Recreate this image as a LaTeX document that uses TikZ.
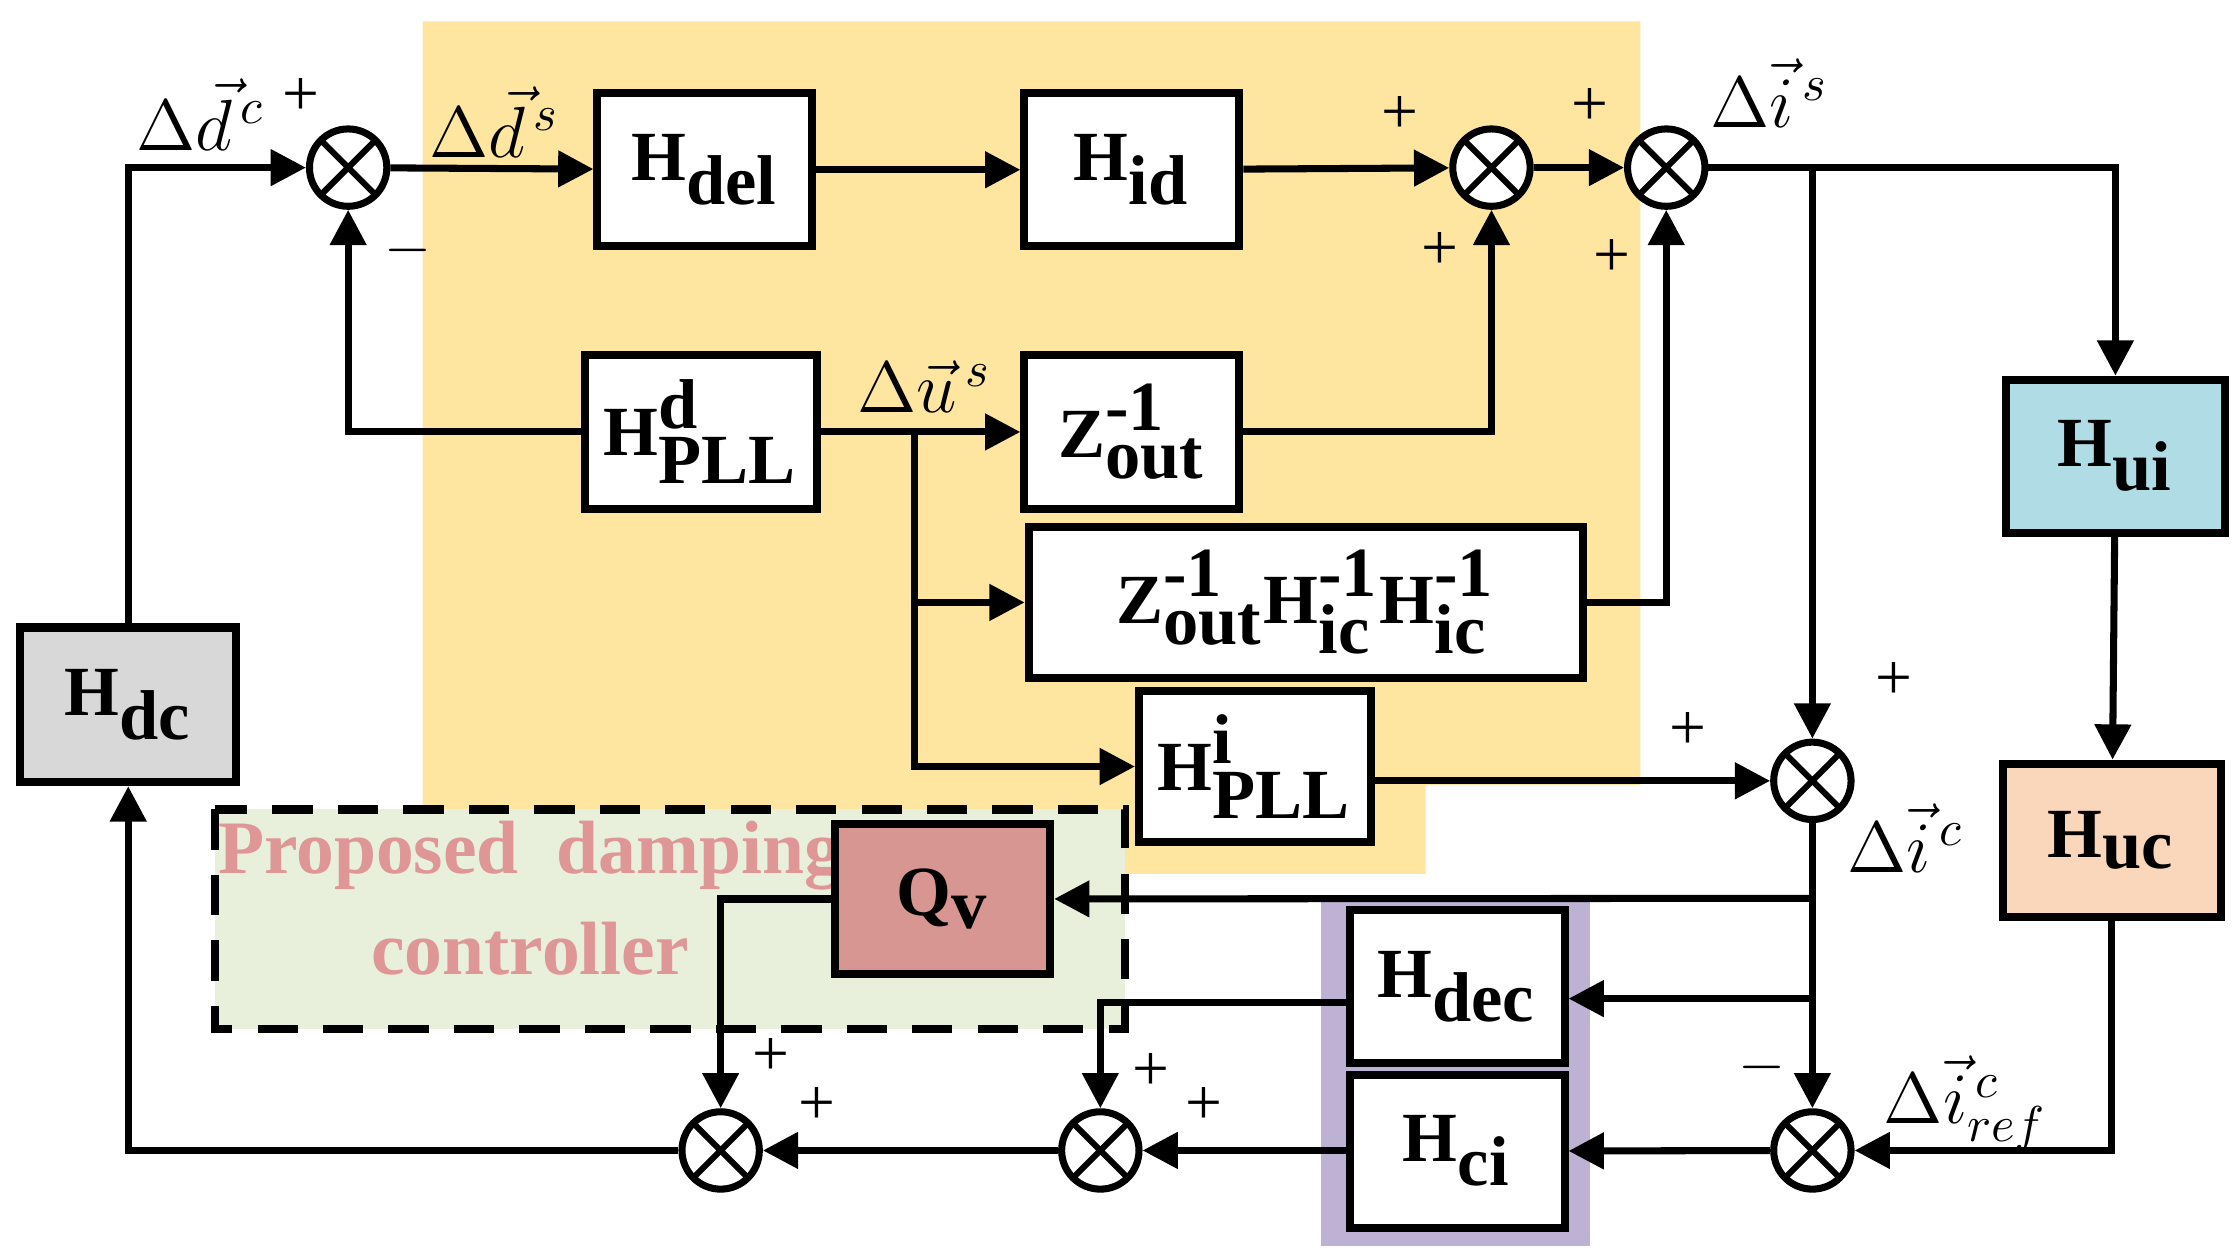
\documentclass[tikz,border=0pt]{standalone}
\usepackage{fontspec}
\setmainfont{Liberation Serif}
\usetikzlibrary{arrows.meta}
\definecolor{bgyellow}{RGB}{254,229,160}
\definecolor{bgpurple}{RGB}{190,178,212}
\definecolor{bggreen}{RGB}{232,240,220}
\definecolor{fblue}{RGB}{176,220,230}
\definecolor{fpeach}{RGB}{250,214,186}
\definecolor{fgray}{RGB}{216,216,216}
\definecolor{fred}{RGB}{216,150,146}
\definecolor{tpink}{RGB}{222,150,150}
\tikzset{
blk/.style={draw, line width=1.6pt, fill=white, font=\fontsize{14}{17}\selectfont\bfseries, inner sep=0pt},
sum/.style={draw, line width=1.4pt, fill=white, circle, minimum size=0.54cm, inner sep=0pt,
  path picture={\draw[line width=1.2pt] (path picture bounding box.north west) -- (path picture bounding box.south east)
  (path picture bounding box.north east) -- (path picture bounding box.south west);}},
sig/.style={line width=1.4pt, -{Triangle[length=7pt,width=7pt]}},
ln/.style={line width=1.4pt},
pm/.style={font=\fontsize{13}{15}\selectfont},
lab/.style={font=\fontsize{14}{17}\selectfont}
}
\newcommand{\blkat}[6]{
\node[blk, minimum width=#3cm, minimum height=#4cm, fill=#5] (#1) at (#2) {#6};
}
\begin{document}
\begin{tikzpicture}
\useasboundingbox (0,0) rectangle (15.6,-8.774);
% backgrounds
\fill[bgyellow] (2.95,-0.15) -- (11.45,-0.15) -- (11.45,-5.48) -- (9.95,-5.48) -- (9.95,-6.1) -- (2.95,-6.1) -- cycle;
\fill[bgpurple] (9.22,-6.28) rectangle (11.1,-8.7);
\draw[line width=1.6pt, dashed, dash pattern=on 8pt off 5pt, fill=bggreen] (1.5,-5.65) rectangle (7.85,-7.18);
\node[font=\fontsize{15}{20}\selectfont\bfseries, text=tpink, align=center] (txt) at (3.7,-6.27) {Proposed\ \ damping\\controller};
% blocks
\blkat{del}{4.92,-1.185}{1.5}{1.07}{white}{$\textbf{H}_{\textbf{del}}$}
\blkat{id}{7.9,-1.185}{1.5}{1.07}{white}{$\textbf{H}_{\textbf{id}}$}
\blkat{pll}{4.89,-3.015}{1.62}{1.07}{white}{$\textbf{H}^{\textbf{d}}_{\textbf{PLL}}$}
\blkat{zout}{7.9,-3.015}{1.5}{1.07}{white}{$\textbf{Z}^{\textbf{-1}}_{\textbf{out}}$}
\blkat{zhh}{9.115,-4.205}{3.87}{1.05}{white}{$\textbf{Z}^{\textbf{-1}}_{\textbf{out}}\textbf{H}^{\textbf{-1}}_{\textbf{ic}}\textbf{H}^{\textbf{-1}}_{\textbf{ic}}$}
\blkat{pllI}{8.76,-5.35}{1.62}{1.06}{white}{$\textbf{H}^{\textbf{i}}_{\textbf{PLL}}$}
\blkat{ui}{14.765,-3.185}{1.53}{1.07}{fblue}{$\textbf{H}_{\textbf{ui}}$}
\blkat{uc}{14.74,-5.865}{1.52}{1.07}{fpeach}{$\textbf{H}_{\textbf{uc}}$}
\blkat{dc}{0.895,-4.92}{1.51}{1.08}{fgray}{$\textbf{H}_{\textbf{dc}}$}
\blkat{qv}{6.58,-6.275}{1.5}{1.05}{fred}{$\textbf{Q}_{\textbf{v}}$}
\blkat{dec}{10.17,-6.885}{1.5}{1.07}{white}{$\textbf{H}_{\textbf{dec}}$}
\blkat{ci}{10.17,-8.035}{1.5}{1.07}{white}{$\textbf{H}_{\textbf{ci}}$}
% sums
\node[sum] (s1) at (2.43,-1.17) {};
\node[sum] (s2) at (10.41,-1.17) {};
\node[sum] (s3) at (11.63,-1.17) {};
\node[sum] (s4) at (12.65,-5.45) {};
\node[sum] (s5) at (12.65,-8.03) {};
\node[sum] (s6) at (7.68,-8.03) {};
\node[sum] (s7) at (5.03,-8.03) {};
% coordinates
\coordinate (bu) at (6.38,-3.015);
\coordinate (bi) at (12.65,-1.17);
\coordinate (bq) at (12.65,-6.27);
\coordinate (bd) at (12.65,-6.97);
% forward path
\draw[sig] (s1) -- (del);
\draw[sig] (del) -- (id);
\draw[sig] (id) -- (s2);
\draw[sig] (s2) -- (s3);
\draw[ln] (s3) -- (bi);
\draw[sig] (bi) -| (ui);
\draw[sig] (ui) -- (uc);
\draw[sig] (uc.south) |- (s5);
\draw[sig] (bi) -- (s4);
\draw[sig] (pll.west) -| (s1);
\draw[sig] (pll) -- (zout);
\draw[sig] (bu) |- (zhh);
\draw[sig] (bu) |- (pllI);
\draw[sig] (zout) -| (s2);
\draw[sig] (zhh) -| (s3);
\draw[sig] (pllI.east |- s4) -- (s4);
\draw[sig] (s4) -- (s5);
\draw[sig] (bq) -- (qv);
\draw[sig] (bd) -- (dec.east |- bd);
\draw[sig] (dec.west |- 0,-7.0) -| (s6);
\draw[sig] (s5) -- (ci);
\draw[sig] (ci.west |- s6) -- (s6);
\draw[sig] (s6) -- (s7);
\draw[sig] (qv.west) -| (s7);
\draw[sig] (s7) -| (dc);
\draw[sig] (dc) |- (s1);
% signs and labels
\node[pm] at (2.1,-0.68) {+};
\node[pm] at (2.85,-1.75) {$-$};
\node[pm] at (9.77,-0.8) {+};
\node[pm] at (10.05,-1.75) {+};
\node[pm] at (11.1,-0.75) {+};
\node[pm] at (11.25,-1.8) {+};
\node[pm] at (13.22,-4.75) {+};
\node[pm] at (11.78,-5.1) {+};
\node[pm] at (12.3,-7.45) {$-$};
\node[pm] at (8.03,-7.48) {+};
\node[pm] at (8.4,-7.72) {+};
\node[pm] at (5.38,-7.38) {+};
\node[pm] at (5.7,-7.72) {+};
\node[lab] at (1.4,-0.8) {$\Delta\vec{d}^{\,c}$};
\node[lab] at (3.45,-0.85) {$\Delta\vec{d}^{\,s}$};
\node[lab] at (6.45,-2.7) {$\Delta\vec{u}^{\,s}$};
\node[lab] at (12.35,-0.65) {$\Delta\vec{i}^{\,s}$};
\node[lab] at (13.3,-5.85) {$\Delta\vec{i}^{\,c}$};
\node[lab] at (13.72,-7.7) {$\Delta\vec{i}^{\,c}_{ref}$};
\end{tikzpicture}
\end{document}
